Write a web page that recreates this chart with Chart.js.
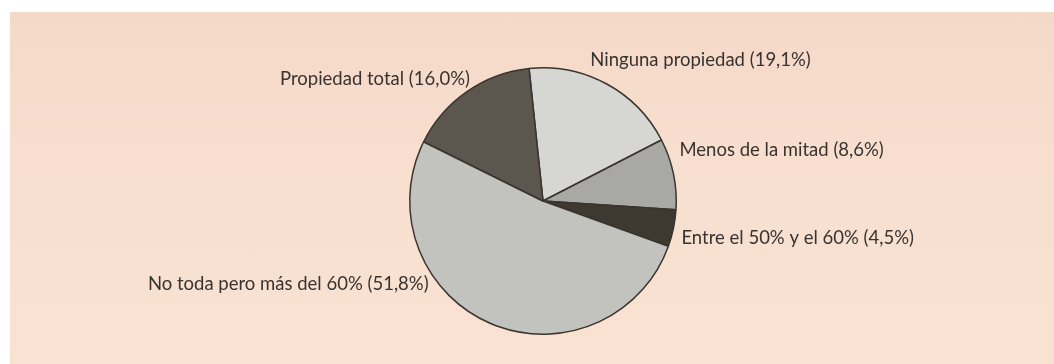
<!DOCTYPE html>
<html lang="es">
<head>
<meta charset="utf-8">
<title>Propiedad</title>
<script src="https://cdn.jsdelivr.net/npm/chart.js@4.4.1/dist/chart.umd.min.js"></script>
<style>
  html, body { margin: 0; padding: 0; background: #ffffff; }
  #wrap { position: relative; width: 1054px; height: 364px; }
  #panel { position: absolute; left: 10px; top: 12px; right: 0; bottom: 0;
           background: linear-gradient(#f5d9c8, #f8e0d0 55%, #f8e2d0); }
  canvas { position: absolute; left: 0; top: 0; }
</style>
</head>
<body>
<div id="wrap">
  <div id="panel"></div>
  <canvas id="pie" width="1054" height="364"></canvas>
</div>
<script>
  // categories and shares (%), clockwise from the top
  const categories = [
    "Ninguna propiedad",
    "Menos de la mitad",
    "Entre el 50% y el 60%",
    "No toda pero más del 60%",
    "Propiedad total"
  ];
  const shares = [19.1, 8.6, 4.5, 51.8, 16.0];
  const shareLabels = ["19,1%", "8,6%", "4,5%", "51,8%", "16,0%"];

  const FILLS = ["#d6d7d3", "#a8a8a4", "#3d3830", "#c2c3bf", "#5b574f"];
  const EDGE = "#3a342e";
  const FONT = "Lato";
  const INK = "#383330";

  /* label placement: offset from the rim point at each slice's mid angle */
  const LABEL_POS = [
    { dx: -16, dy: -24, align: "left" },
    { dx: 6, dy: -24, align: "left" },
    { dx: 8, dy: 10, align: "left" },
    { dx: -62, dy: -39, align: "right" },
    { dx: 3, dy: -13, align: "right" }
  ];

  const sliceLabels = {
    id: "sliceLabels",
    afterDatasetsDraw(chart) {
      const c = chart.ctx;
      const meta = chart.getDatasetMeta(0);
      c.save();
      c.font = `18.5px ${FONT}`;
      c.fillStyle = INK;
      c.textBaseline = "middle";
      meta.data.forEach((arc, i) => {
        const mid = (arc.startAngle + arc.endAngle) / 2;
        const x = arc.x + Math.cos(mid) * arc.outerRadius + LABEL_POS[i].dx;
        const y = arc.y + Math.sin(mid) * arc.outerRadius + LABEL_POS[i].dy;
        c.textAlign = LABEL_POS[i].align;
        c.fillText(`${categories[i]} (${shareLabels[i]})`, x, y);
      });
      c.restore();
    }
  };

  new Chart(document.getElementById("pie").getContext("2d"), {
    type: "pie",
    data: {
      labels: categories,
      datasets: [{
        data: shares,
        backgroundColor: FILLS,
        borderColor: EDGE,
        borderWidth: 1.5,
        borderAlign: "center"
      }]
    },
    options: {
      responsive: false,
      animation: false,
      rotation: -6,
      layout: { padding: { left: 409, right: 377, top: 67, bottom: 29 } },
      plugins: {
        legend: { display: false },
        tooltip: { enabled: false }
      },
      events: []
    },
    plugins: [sliceLabels]
  });
</script>
</body>
</html>
